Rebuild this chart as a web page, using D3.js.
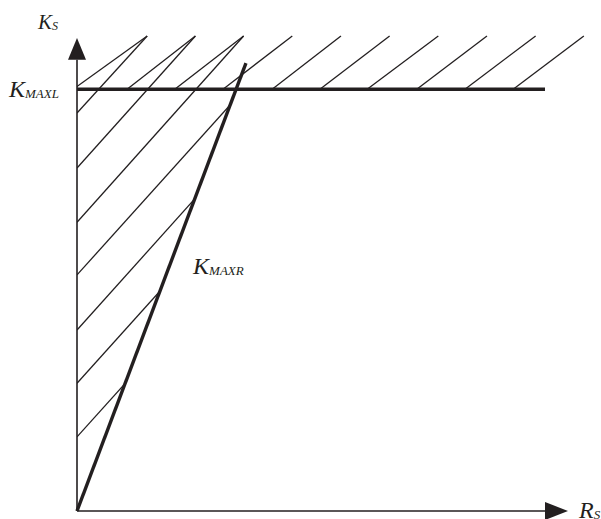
<!DOCTYPE html>
<html><head><meta charset="utf-8">
<script src="https://cdn.jsdelivr.net/npm/d3@7"></script>
<style>
html,body{margin:0;padding:0;background:#fff;}
svg{display:block;}
text{font-family:"Liberation Serif","Times New Roman",serif;font-style:italic;fill:#231f20;}
</style></head>
<body>
<div id="chart"></div>
<script>
// ---- data (abstract units) ----
const kMaxL = 8.88;                         // level of the K_MAXL line
const kMaxLEndX = 10;                       // where the K_MAXL line stops
const kMaxRStart = [0, 0];                  // K_MAXR line start
const kMaxREnd = [3.61, 9.43];              // K_MAXR line end
const hatchTopY = 10;                       // top of hatching
const hatchTopX = [1.5, 2.53, 3.56, 4.6, 5.64, 6.68, 7.72, 8.76, 9.8, 10.83];
const upperHatchBaseX = [-0.08, 1.07, 2.09, 3.12, 4.17, 5.19, 6.2, 7.26, 8.29, 9.32];
const lowerHatchAxisY = [8.38, 7.22, 6.08, 4.97, 3.81, 2.69, 1.56];
const axisMax = 10;
const labelMain = ["K", "K", "K", "R"];
const labelSub = ["S", "MAXL", "MAXR", "S"];

// ---- drawing ----
const W = 601, H = 519, ink = "#231f20";
const svg = d3.select("#chart").append("svg").attr("width", W).attr("height", H);
const x = d3.scaleLinear().domain([0, 10]).range([77, 545]);
const y = d3.scaleLinear().domain([0, 10]).range([511, 36]);

const defs = svg.append("defs");
// clip for upper band (right of y axis, above K_MAXL)
defs.append("clipPath").attr("id", "clipUpper").append("rect")
  .attr("x", x(0)).attr("y", 0).attr("width", W).attr("height", y(kMaxL));
// clip for lower region: triangle between y axis and the K_MAXR line
const slopeR = (kMaxREnd[1] - kMaxRStart[1]) / (kMaxREnd[0] - kMaxRStart[0]);
const xTopR = kMaxRStart[0] + (hatchTopY - kMaxRStart[1]) / slopeR;
defs.append("clipPath").attr("id", "clipLower").append("path")
  .attr("d", d3.line()([[x(0), y(0)], [x(0), y(hatchTopY) - 2], [x(xTopR), y(hatchTopY) - 2]]) + "Z");

const hatchW = 1.3;
svg.append("g").attr("clip-path", "url(#clipUpper)")
  .selectAll("line").data(hatchTopX).join("line")
  .attr("x1", (d, i) => x(upperHatchBaseX[i])).attr("y1", y(kMaxL))
  .attr("x2", d => x(d)).attr("y2", y(hatchTopY))
  .attr("stroke", ink).attr("stroke-width", hatchW);

svg.append("g").attr("clip-path", "url(#clipLower)")
  .selectAll("line").data(lowerHatchAxisY).join("line")
  .attr("x1", x(0)).attr("y1", d => y(d))
  .attr("x2", (d, i) => x(hatchTopX[i])).attr("y2", y(hatchTopY))
  .attr("stroke", ink).attr("stroke-width", hatchW);

// axes
const axisW = 1.6;
svg.append("line").attr("x1", x(0)).attr("y1", y(0)).attr("x2", x(axisMax)).attr("y2", y(0))
  .attr("stroke", ink).attr("stroke-width", axisW);
svg.append("line").attr("x1", x(0)).attr("y1", y(0)).attr("x2", x(0)).attr("y2", y(9.5))
  .attr("stroke", ink).attr("stroke-width", axisW);
// arrowheads
svg.append("path").attr("fill", ink)
  .attr("d", `M${x(0)},${y(9.96)} L${x(0) - 9},${y(9.5)} L${x(0) + 9},${y(9.5)} Z`);
svg.append("path").attr("fill", ink)
  .attr("d", `M${x(axisMax) + 23},${y(0)} L${x(axisMax)},${y(0) - 9} L${x(axisMax)},${y(0) + 9} Z`);

// thick lines
svg.append("line").attr("x1", x(0)).attr("y1", y(kMaxL)).attr("x2", x(kMaxLEndX)).attr("y2", y(kMaxL))
  .attr("stroke", ink).attr("stroke-width", 3.6);
svg.append("line").attr("x1", x(kMaxRStart[0])).attr("y1", y(kMaxRStart[1]))
  .attr("x2", x(kMaxREnd[0])).attr("y2", y(kMaxREnd[1]))
  .attr("stroke", ink).attr("stroke-width", 3.4);

// labels
function label(i, px, py, mainSize, subSize) {
  const t = svg.append("text").attr("x", px).attr("y", py);
  t.append("tspan").attr("font-size", mainSize).text(labelMain[i]);
  t.append("tspan").attr("font-size", subSize).attr("dy", 1).text(labelSub[i]);
}
label(0, x(0) - 39, y(9.9) - 12, 21, 12);
label(1, x(0) - 68, y(kMaxL) + 8, 24, 13);
label(2, x(2.48), y(5.0), 24, 13);
label(3, x(axisMax) + 34, y(0) + 7, 24, 13);
</script>
</body></html>
